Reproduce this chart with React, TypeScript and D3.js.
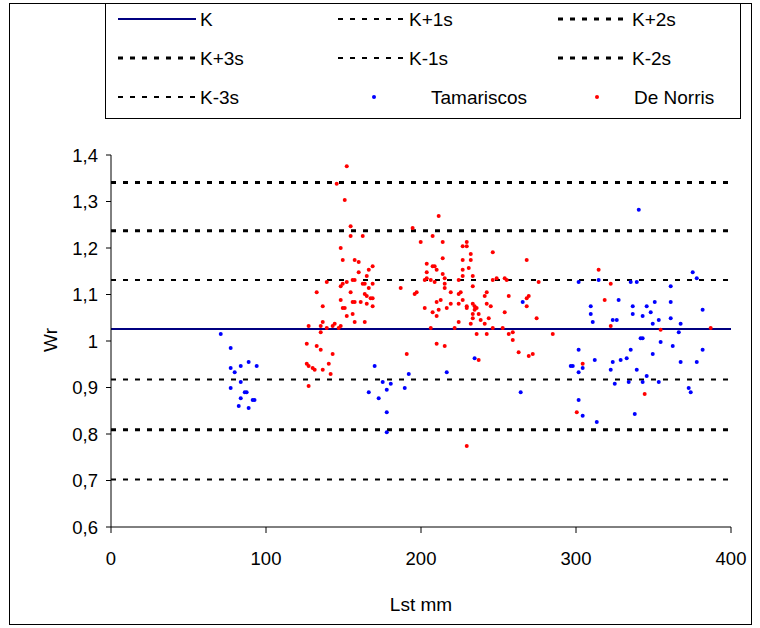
import React from "react";
import * as d3 from "d3";

// Reference lines (Wr)
const refNames = ["K", "K+1s", "K+2s", "K+3s", "K-1s", "K-2s", "K-3s"];
const refValues = [1.026, 1.131, 1.237, 1.341, 0.917, 0.809, 0.702];
const refWidths = [2, 2, 3, 3, 2, 3, 2];

const xTicks = [0, 100, 200, 300, 400];
const yTicks = [0.6, 0.7, 0.8, 0.9, 1.0, 1.1, 1.2, 1.3, 1.4];

// [Lst mm, Wr]
const tamariscos: [number, number][] = [
  [70.8, 1.015], [77.2, 0.985], [77.2, 0.942], [79.8, 0.933], [83.7, 0.946], [88.8, 0.955],
  [94.0, 0.946], [83.7, 0.912], [77.2, 0.899], [86.3, 0.89], [87.5, 0.89], [83.7, 0.877],
  [82.4, 0.86], [91.4, 0.873], [92.6, 0.873], [88.8, 0.856],
  [170.1, 0.946], [192.1, 0.929], [175.3, 0.912], [180.5, 0.908], [177.9, 0.895], [189.5, 0.899],
  [166.3, 0.89], [172.7, 0.877], [177.9, 0.847], [177.9, 0.804], [265.6, 1.084], [234.6, 0.963],
  [216.6, 0.933], [264.3, 0.89],
  [340.5, 1.282], [301.7, 1.127], [314.6, 1.131], [335.3, 1.127], [339.2, 1.127], [361.1, 1.118],
  [375.3, 1.148], [377.9, 1.135], [309.5, 1.075], [309.5, 1.058], [310.8, 1.041], [327.5, 1.088],
  [323.7, 1.045], [326.3, 1.045], [336.6, 1.075], [336.6, 1.058], [343.0, 1.054], [345.6, 1.075],
  [350.8, 1.084], [348.2, 1.062], [349.5, 1.037], [353.4, 1.045], [361.1, 1.084], [361.1, 1.049],
  [367.5, 1.037], [366.3, 1.019], [381.7, 1.067], [341.7, 1.006], [343.0, 1.006], [354.6, 0.998],
  [362.4, 0.989], [381.7, 0.981], [301.7, 0.981], [335.3, 0.981], [349.5, 0.972], [312.1, 0.959],
  [296.6, 0.946], [297.9, 0.946], [304.3, 0.942], [301.7, 0.933], [323.7, 0.955], [328.8, 0.959],
  [332.7, 0.963], [322.4, 0.938], [339.2, 0.938], [367.5, 0.955], [377.9, 0.955], [345.6, 0.925],
  [325.0, 0.908], [334.0, 0.912], [343.0, 0.912], [353.4, 0.912], [372.7, 0.899], [374.0, 0.89],
  [301.7, 0.873], [304.3, 0.839], [313.4, 0.826], [337.9, 0.843],
];

const deNorris: [number, number][] = [
  [145.6, 1.338], [152.1, 1.376], [150.8, 1.303], [154.6, 1.247], [154.6, 1.226], [148.2, 1.2],
  [149.5, 1.174], [157.2, 1.174], [159.8, 1.17], [159.8, 1.148], [139.2, 1.127], [152.1, 1.127],
  [155.9, 1.131], [157.2, 1.131], [148.2, 1.118], [149.5, 1.123], [132.7, 1.105], [154.6, 1.105],
  [148.2, 1.088], [155.9, 1.084], [157.2, 1.084], [161.1, 1.084], [136.6, 1.075], [149.5, 1.071],
  [150.8, 1.071], [155.9, 1.058], [152.1, 1.054], [157.2, 1.041], [136.6, 1.041], [127.5, 1.032],
  [135.3, 1.032], [139.2, 1.028], [143.0, 1.032], [144.3, 1.037], [146.9, 1.028], [148.2, 1.032],
  [135.3, 1.019], [126.3, 0.994], [132.7, 0.989], [135.3, 0.981], [143.0, 0.972], [140.5, 0.951],
  [126.3, 0.951], [127.5, 0.946], [130.1, 0.942], [131.4, 0.938], [136.6, 0.938], [141.7, 0.929],
  [162.4, 1.123], [163.7, 1.123], [168.8, 1.123], [166.3, 1.114], [186.9, 1.114], [202.4, 1.131],
  [163.7, 1.101], [165.0, 1.097], [167.5, 1.092], [168.8, 1.092], [195.9, 1.101], [197.2, 1.105],
  [165.0, 1.08], [168.8, 1.075], [202.4, 1.071], [163.7, 1.041], [190.8, 0.972], [127.5, 0.903],
  [211.4, 1.269], [194.6, 1.243], [162.4, 1.226], [207.5, 1.226], [199.8, 1.213], [214.0, 1.213],
  [226.9, 1.204], [229.5, 1.204], [229.5, 1.213], [203.7, 1.166], [214.0, 1.178], [226.9, 1.174],
  [232.1, 1.187], [168.8, 1.161], [166.3, 1.153], [207.5, 1.161], [208.8, 1.161], [210.1, 1.153],
  [230.8, 1.157], [226.9, 1.153], [203.7, 1.148], [214.0, 1.144], [165.0, 1.14], [226.9, 1.14],
  [203.7, 1.135], [215.3, 1.135], [206.3, 1.131], [224.3, 1.131], [208.8, 1.127], [215.3, 1.123],
  [215.3, 1.114], [219.2, 1.105], [224.3, 1.101], [225.6, 1.105], [212.7, 1.088],
  [246.3, 1.191], [232.1, 1.174], [268.2, 1.174], [233.4, 1.14], [248.8, 1.135], [246.3, 1.131],
  [254.0, 1.135], [255.3, 1.131], [275.9, 1.127], [233.4, 1.118], [242.4, 1.105], [241.1, 1.097],
  [256.6, 1.097], [269.5, 1.097], [268.2, 1.092], [226.9, 1.088], [233.4, 1.08], [234.6, 1.075],
  [235.9, 1.071], [229.5, 1.075], [229.5, 1.071], [242.4, 1.08], [245.0, 1.075], [268.2, 1.075],
  [210.1, 1.084], [219.2, 1.08], [224.3, 1.08], [216.6, 1.071], [207.5, 1.062], [211.4, 1.067],
  [210.1, 1.054], [234.6, 1.067], [233.4, 1.058], [233.4, 1.049], [237.2, 1.058], [243.7, 1.049],
  [238.5, 1.045], [254.0, 1.062], [274.6, 1.049], [224.3, 1.041], [232.1, 1.037], [241.1, 1.037],
  [206.3, 1.028], [221.7, 1.028], [246.3, 1.028], [252.7, 1.028], [235.9, 1.015], [242.4, 1.015],
  [256.6, 1.015], [259.2, 1.019], [285.0, 1.015], [259.2, 1.002], [210.1, 0.994], [215.3, 0.989],
  [263.0, 0.976], [269.5, 0.968], [272.1, 0.972], [237.2, 0.959], [229.5, 0.774],
  [314.6, 1.153], [322.4, 1.123], [318.5, 1.088], [322.4, 1.032], [354.6, 1.024], [386.9, 1.028],
  [304.3, 0.951], [344.3, 0.886], [300.5, 0.847],
];

const W = 760;
const H = 628;
const FONT = "'Liberation Sans', Arial, sans-serif";

export default function App() {
  const x = d3.scaleLinear().domain([0, 400]).range([111, 731]);
  const y = d3.scaleLinear().domain([0.6, 1.4]).range([527, 155]);

  const legendRows = [19, 58, 97];
  const legendCols = [
    { x1: 118, x2: 196, tx: 200 },
    { x1: 338, x2: 405, tx: 409 },
    { x1: 558, x2: 628, tx: 632 },
  ];
  const legendItems = refNames.map((n, i) => ({ name: n, i }));

  return (
    <svg
      width={W}
      height={H}
      style={{ position: "absolute", left: 0, top: 0, background: "#fff" }}
      fontFamily={FONT}
    >
      <rect x={0} y={0} width={W} height={H} fill="#fff" />
      <rect x={9.5} y={3.5} width={742} height={621} fill="none" stroke="#000" strokeWidth={1} />

      {refValues.map((v, i) => (
        <line
          key={refNames[i]}
          x1={x(0)}
          x2={x(400)}
          y1={y(v)}
          y2={y(v)}
          stroke={i === 0 ? "#000080" : "#000"}
          strokeWidth={refWidths[i]}
          strokeDasharray={i === 0 ? undefined : "5 7"}
        />
      ))}

      <line x1={x(0)} x2={x(0)} y1={y(1.4)} y2={y(0.6)} stroke="#000" strokeWidth={1} />
      <line x1={x(0)} x2={x(400)} y1={y(0.6)} y2={y(0.6)} stroke="#000" strokeWidth={1} />
      {yTicks.map((t) => (
        <g key={"y" + t}>
          <line x1={x(0) - 5} x2={x(0)} y1={y(t)} y2={y(t)} stroke="#000" />
          <text x={x(0) - 13} y={y(t)} dy="0.36em" textAnchor="end" fontSize={18.5} fill="#000">
            {t === 1 ? "1" : d3.format(".1f")(t).replace(".", ",")}
          </text>
        </g>
      ))}
      {xTicks.map((t) => (
        <g key={"x" + t}>
          <line x1={x(t)} x2={x(t)} y1={y(0.6)} y2={y(0.6) + 6} stroke="#000" />
          <text x={x(t)} y={565} textAnchor="middle" fontSize={18.5} fill="#000">
            {t}
          </text>
        </g>
      ))}
      <text x={421} y={611} textAnchor="middle" fontSize={19} fill="#000">
        Lst mm
      </text>
      <text transform={`translate(57,340) rotate(-90)`} textAnchor="middle" fontSize={19} fill="#000">
        Wr
      </text>

      {tamariscos.map((d, i) => (
        <circle key={"t" + i} cx={x(d[0])} cy={y(d[1])} r={2} fill="#0000ff" />
      ))}
      {deNorris.map((d, i) => (
        <circle key={"d" + i} cx={x(d[0])} cy={y(d[1])} r={2} fill="#ff0000" />
      ))}

      <rect x={105.5} y={3.5} width={635} height={115} fill="#fff" stroke="#000" strokeWidth={1} />
      {legendItems.map(({ name, i }) => {
        const row = Math.floor(i / 3);
        const col = i % 3;
        const c = legendCols[col];
        const ly = legendRows[row];
        return (
          <g key={"l" + name}>
            <line
              x1={c.x1}
              x2={c.x2}
              y1={ly}
              y2={ly}
              stroke={i === 0 ? "#000080" : "#000"}
              strokeWidth={refWidths[i]}
              strokeDasharray={i === 0 ? undefined : "5 7"}
            />
            <text x={c.tx} y={ly} dy="0.36em" fontSize={19} fill="#000">
              {name}
            </text>
          </g>
        );
      })}
      <circle cx={374} cy={legendRows[2]} r={2} fill="#0000ff" />
      <text x={431} y={legendRows[2]} dy="0.36em" fontSize={19} fill="#000">
        Tamariscos
      </text>
      <circle cx={597} cy={legendRows[2]} r={2} fill="#ff0000" />
      <text x={634} y={legendRows[2]} dy="0.36em" fontSize={19} fill="#000">
        De Norris
      </text>
    </svg>
  );
}
